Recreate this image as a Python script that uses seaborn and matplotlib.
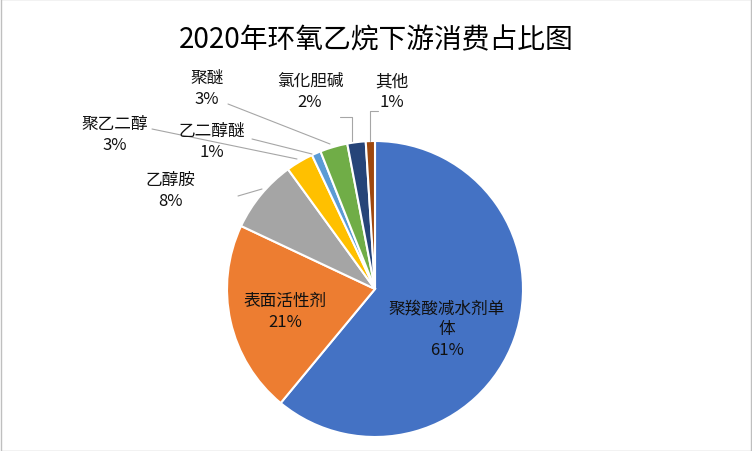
import matplotlib
matplotlib.use("Agg")
import matplotlib.pyplot as plt
import seaborn as sns

categories = ["聚羧酸减水剂单体", "表面活性剂", "乙醇胺", "聚乙二醇", "乙二醇醚", "聚醚", "氯化胆碱", "其他"]
values = [61, 21, 8, 3, 1, 3, 2, 1]
colors = ["#4472C4", "#ED7D31", "#A5A5A5", "#FFC000", "#5B9BD5", "#70AD47", "#264478", "#9E480E"]

fonts = ["Noto Sans CJK SC", "Noto Sans CJK JP", "Noto Sans CJK TC", "DejaVu Sans"]
sns.set_theme(style="white", font=fonts[0])
plt.rcParams["font.family"] = "sans-serif"
plt.rcParams["font.sans-serif"] = fonts

fig = plt.figure(figsize=(7.52, 4.52), dpi=100)
fig.patches.append(plt.Rectangle((0.001, 0.001), 0.998, 0.998, transform=fig.transFigure,
                                 fill=False, edgecolor="#BFBFBF", linewidth=1))
cx, cy, r = 375, 290, 148
ax = fig.add_axes([(cx - r) / 752, (452 - cy - r) / 452, 2 * r / 752, 2 * r / 452])
ax.pie(values, colors=colors, startangle=90, counterclock=False,
       wedgeprops=dict(edgecolor="white", linewidth=1.5))
ax.set_xlim(-1, 1); ax.set_ylim(-1, 1)
ax.set_aspect("equal")

def P(px, py):
    return ((px - cx) / r, (cy - py) / r)

fig.text(0.5, 1 - 40 / 452, "2020年环氧乙烷下游消费占比图", ha="center", va="center", fontsize=20, color="black")

fs = 12
tc = "#111111"
ax.text(*P(447, 330), f"{categories[0][:7]}\n{categories[0][7:]}\n{values[0]}%", ha="center", va="center", fontsize=fs, linespacing=1.3, color=tc)
ax.text(*P(285, 312), f"{categories[1]}\n{values[1]}%", ha="center", va="center", fontsize=fs, linespacing=1.3, color=tc)

outside = [
    ((170, 191), [(238, 197), (262, 190)]),
    ((115, 135), [(152, 130), (297, 160)]),
    ((212, 142), [(252, 140), (312, 155)]),
    ((207, 89), [(228, 105), (330, 145)]),
    ((310, 92), [(340, 118), (352, 118), (352, 142)]),
    ((392, 92), [(378, 112), (370, 112), (370, 142)]),
]
for (pos, line), i in zip(outside, range(2, 8)):
    lab = f"{categories[i]}\n{values[i]}%"
    ax.text(*P(*pos), lab, ha="center", va="center", fontsize=fs, linespacing=1.3, clip_on=False, color=tc)
    xs = [P(*p)[0] for p in line]; ys = [P(*p)[1] for p in line]
    ax.plot(xs, ys, color="#A6A6A6", linewidth=0.8, clip_on=False)

fig.savefig("out.png", dpi=100)
